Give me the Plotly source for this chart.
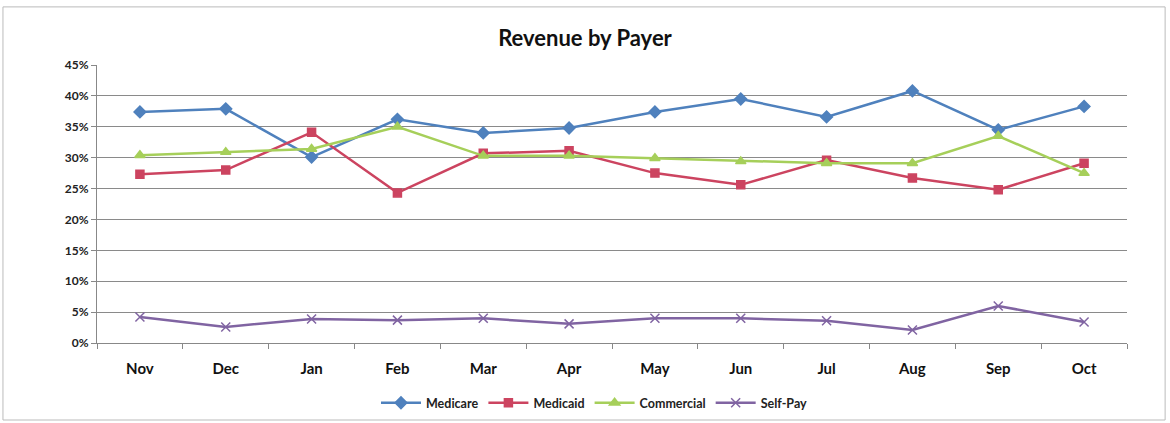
import plotly.graph_objects as go

months = ["Nov", "Dec", "Jan", "Feb", "Mar", "Apr", "May", "Jun", "Jul", "Aug", "Sep", "Oct"]
medicare = [37.4, 37.9, 30.1, 36.2, 34.0, 34.8, 37.4, 39.5, 36.6, 40.8, 34.5, 38.3]
medicaid = [27.3, 28.0, 34.1, 24.3, 30.7, 31.1, 27.5, 25.6, 29.6, 26.7, 24.8, 29.1]
commercial = [30.4, 30.9, 31.4, 35.0, 30.3, 30.3, 29.9, 29.4, 29.1, 29.1, 33.5, 27.5]
self_pay = [4.2, 2.6, 3.9, 3.7, 4.0, 3.1, 4.0, 4.0, 3.6, 2.1, 6.0, 3.4]
y_ticks = [0, 5, 10, 15, 20, 25, 30, 35, 40, 45]

FONT = "Lato"

series = [
    ("Medicare", [v / 100 for v in medicare], "#4F81BD", "diamond", 9),
    ("Medicaid", [v / 100 for v in medicaid], "#CC4460", "square", 8),
    ("Commercial", [v / 100 for v in commercial], "#A6CF5A", "triangle-up", 9),
    ("Self-Pay", [v / 100 for v in self_pay], "#8064A2", "x-thin", 9),
]

fig = go.Figure()
for name, vals, color, sym, size in series:
    fig.add_trace(go.Scatter(
        x=months, y=vals, name=f"<b>{name}</b>", mode="lines+markers",
        line=dict(color=color, width=2.5),
        marker=dict(symbol=sym, size=size, color=color,
                    line=dict(color=color, width=1.5)),
    ))

fig.update_layout(
    width=1170, height=423,
    margin=dict(l=97, r=43, t=65, b=80),
    paper_bgcolor="white", plot_bgcolor="white",
    font=dict(family=FONT, color="#222222"),
    title=dict(text="<b>Revenue by Payer</b>", x=0.5, xanchor="center",
               y=0.91, yanchor="middle", font=dict(size=22, family=FONT, color="#111111")),
    showlegend=True,
    legend=dict(orientation="h", x=0.483, xanchor="center",
                yref="container", y=0.047, yanchor="middle",
                font=dict(size=12.5, family=FONT, color="#222222"), itemwidth=40,
                traceorder="normal"),
    xaxis=dict(
        showgrid=False, showline=True, linecolor="#888888", linewidth=1,
        ticks="outside", tickson="boundaries", ticklen=5, tickcolor="#888888",
        tickfont=dict(size=15, family=FONT, color="#111111"),
        ticklabelstandoff=12,
        range=[-0.5, 11.5],
        tickvals=months, ticktext=[f"<b>{m}</b>" for m in months],
    ),
    yaxis=dict(
        range=[0, 0.45], tickvals=[t / 100 for t in y_ticks],
        ticktext=[f"<b>{t}%</b>" for t in y_ticks],
        showgrid=True, gridcolor="#8a8a8a", gridwidth=1,
        showline=True, linecolor="#888888", linewidth=1,
        ticks="outside", ticklen=5, tickcolor="#888888",
        tickfont=dict(size=12, family=FONT, color="#222222"),
        zeroline=False,
    ),
)

fig.add_shape(type="rect", xref="paper", yref="paper",
              x0=-0.0913, x1=1.037, y0=-0.277, y1=1.209,
              line=dict(color="#BBBBBB", width=1), layer="below")

fig.write_html("out.html")
